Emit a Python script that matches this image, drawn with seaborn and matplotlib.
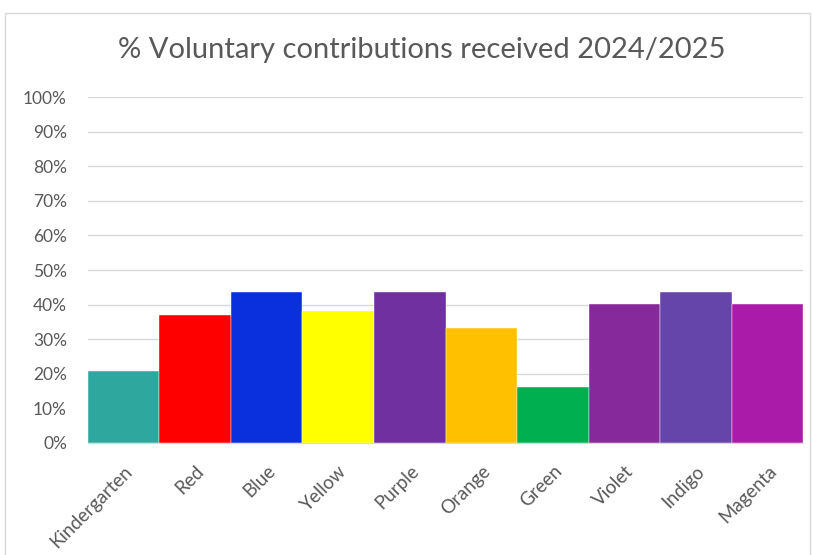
import matplotlib
matplotlib.use("Agg")
import matplotlib.pyplot as plt
import seaborn as sns
import pandas as pd
from matplotlib.patches import Rectangle
from matplotlib.ticker import PercentFormatter

# values (percent)
classes = ['Kindergarten', 'Red', 'Blue', 'Yellow', 'Purple',
           'Orange', 'Green', 'Violet', 'Indigo', 'Magenta']
percent = [20.7, 37.1, 43.6, 38.1, 43.6, 33.1, 16.3, 40.2, 43.6, 40.2]
bar_colors = ['#2EA89E', '#FF0000', '#0A2FDD', '#FFFF00', '#7030A0',
              '#FFC000', '#00B050', '#86299A', '#6645AA', '#AA1BAA']

df = pd.DataFrame({'cls': classes, 'pct': percent})

sns.set_style('white')
plt.rcParams['font.family'] = ['Lato', 'DejaVu Sans']

fig = plt.figure(figsize=(8.13, 5.55), dpi=100)
ax = fig.add_axes([0.108, 0.202, 0.880, 0.623])

sns.barplot(data=df, x='cls', y='pct', hue='cls', palette=bar_colors,
            width=1.0, legend=False, ax=ax, saturation=1,
            edgecolor='white', linewidth=0.3)

ax.set_ylim(0, 100)
ax.set_yticks(range(0, 101, 10))
ax.yaxis.set_major_formatter(PercentFormatter(decimals=0))
ax.set_xlim(-0.5, len(classes) - 0.5)
ax.grid(axis='y', color='#D9D9D9', linewidth=1)
ax.set_axisbelow(True)
for s in ['top', 'right', 'left']:
    ax.spines[s].set_visible(False)
ax.spines['bottom'].set_color('#D9D9D9')
ax.set_xlabel('')
ax.set_ylabel('')
ax.tick_params(axis='both', length=0, colors='#595959')
ax.tick_params(axis='y', pad=15, labelsize=12.5)
ax.tick_params(axis='x', pad=14, labelsize=13.5)
plt.setp(ax.get_xticklabels(), rotation=45, ha='right', rotation_mode='anchor')

fig.text(0.519, 0.91, '% Voluntary contributions received 2024/2025',
         ha='center', va='center', fontsize=21, color='#595959')

# chart border like the spreadsheet frame
fig.patches.append(Rectangle((0.006, -0.01), 0.99, 0.987, transform=fig.transFigure,
                             fill=False, edgecolor='#D9D9D9', linewidth=1))

fig.savefig('out.png', dpi=100)
